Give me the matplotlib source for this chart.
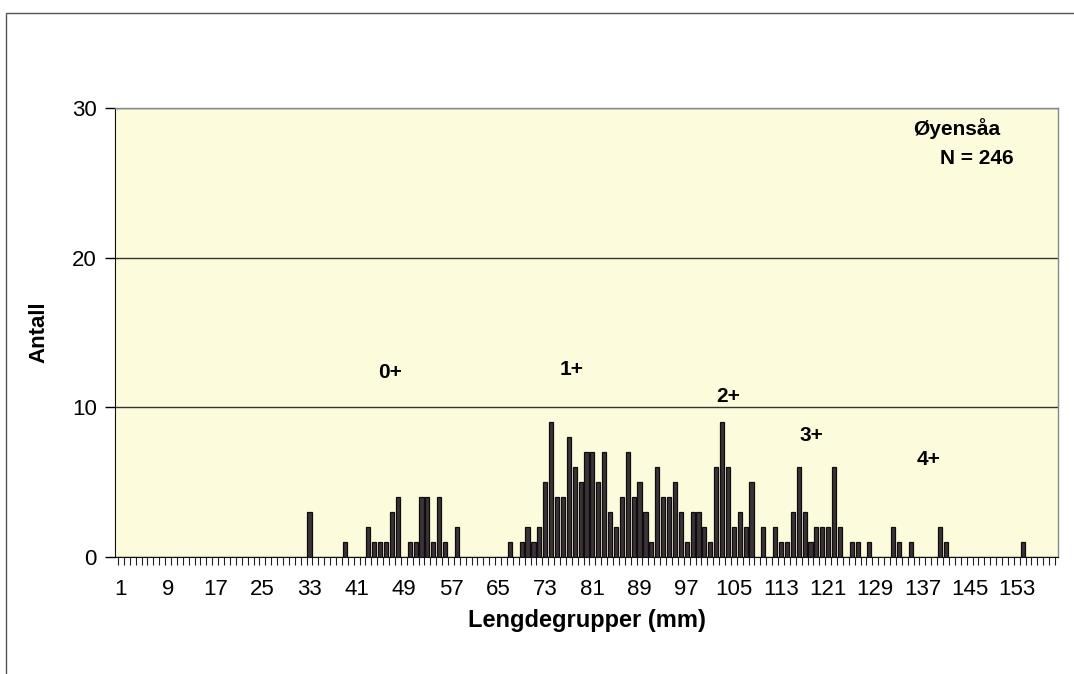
import matplotlib
matplotlib.use("Agg")
import matplotlib.pyplot as plt
from matplotlib.patches import Rectangle
import numpy as np

plt.rcParams['font.family'] = ['Liberation Sans', 'DejaVu Sans']

# Length groups (mm) and number of fish caught in each
lengths = [33, 39, 43, 44, 45, 46, 47, 48, 50, 51, 52, 53, 54, 55, 56, 58,
           67, 69, 70, 71, 72, 73, 74, 75, 76, 77, 78, 79, 80, 81, 82, 83,
           84, 85, 86, 87, 88, 89, 90, 91, 92, 93, 94,
           95, 96, 97, 98, 99, 100, 101, 102, 103, 104, 105, 106, 107, 108,
           110, 112, 113, 114, 115, 116, 117, 118, 119, 120, 121, 122, 123,
           125, 126, 128, 132, 133, 135, 140, 141, 154]
counts = [3, 1, 2, 1, 1, 1, 3, 4, 1, 1, 4, 4, 1, 4, 1, 2,
          1, 1, 2, 1, 2, 5, 9, 4, 4, 8, 6, 5, 7, 7, 5, 7,
          3, 2, 4, 7, 4, 5, 3, 1, 6, 4, 4,
          5, 3, 1, 3, 3, 2, 1, 6, 9, 6, 2, 3, 2, 5,
          2, 2, 1, 1, 3, 6, 3, 1, 2, 2, 2, 6, 2,
          1, 1, 1, 2, 1, 1, 2, 1, 1]

tick_labels = [1, 9, 17, 25, 33, 41, 49, 57, 65, 73, 81, 89, 97, 105,
               113, 121, 129, 137, 145, 153]

# Age-class labels: (text, length group, height)
age_labels = [("0+", 46.6, 12.3), ("1+", 77.4, 12.5), ("2+", 104.0, 10.7),
              ("3+", 118.1, 8.1), ("4+", 138.0, 6.5)]

station = "Øyensåa"
n_total = "N = 246"

fig = plt.figure(figsize=(10.74, 6.74), dpi=100)
fig.patch.set_facecolor("white")

# outer chart frame
fig.patches.append(Rectangle((6 / 1074, -0.1), 1.2, (674 - 13) / 674 + 0.1,
                             transform=fig.transFigure, fill=False,
                             edgecolor="#555555", linewidth=1.0))

ax = fig.add_axes([115 / 1074, 1 - 557 / 674, (1058 - 115) / 1074, (557 - 108) / 674])
ax.set_facecolor("#fcfcdd")

ax.bar(lengths, counts, width=0.7, color="#3d3238", edgecolor="#0d0d0d",
       linewidth=0.9, zorder=3)

ax.set_xlim(0, 160)
ax.set_ylim(0, 30)
ax.set_yticks([0, 10, 20, 30])
ax.yaxis.grid(True, color="#333333", linewidth=1.0, zorder=1)
ax.set_axisbelow(True)

ax.set_xticks(tick_labels)
ax.set_xticklabels([str(t) for t in tick_labels])
ax.set_xticks(np.arange(0.5, 160, 1.0), minor=True)
ax.tick_params(axis="x", which="major", length=0, labelsize=16, pad=16)
ax.tick_params(axis="x", which="minor", length=6, width=0.8, color="#222222")
ax.tick_params(axis="y", which="major", length=7, width=1, labelsize=16, pad=6)

for side in ("top", "right"):
    ax.spines[side].set_color("#888888")
    ax.spines[side].set_linewidth(1.0)
ax.spines["left"].set_color("#111111")
ax.spines["bottom"].set_color("#111111")

ax.set_xlabel("Lengdegrupper (mm)", fontsize=17, fontweight="bold", labelpad=6)
ax.set_ylabel("Antall", fontsize=16, fontweight="bold", labelpad=16)

for text, x, y in age_labels:
    ax.text(x, y, text, fontsize=15, fontweight="bold", ha="center", va="center")

ax.text(142.8, 28.6, station, fontsize=15, fontweight="bold", ha="center", va="center")
ax.text(146.2, 26.6, n_total, fontsize=15, fontweight="bold", ha="center", va="center")

fig.savefig("out.png", dpi=100)
